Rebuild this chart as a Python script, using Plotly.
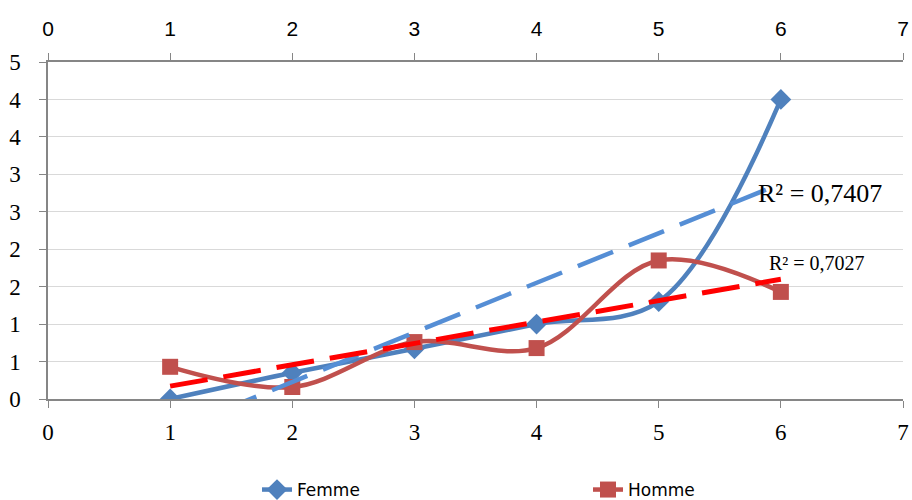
import numpy as np
import plotly.graph_objects as go

x_vals = [1, 2, 3, 4, 5, 6]
femme = [0.0, 0.35, 0.67, 1.0, 1.3, 4.0]
homme = [0.43, 0.16, 0.76, 0.68, 1.85, 1.43]
y_tickvals = [0, 0.5, 1, 1.5, 2, 2.5, 3, 3.5, 4, 4.5]
y_ticktext = ["0", "1", "1", "2", "2", "3", "3", "4", "4", "5"]
x_ticks = [0, 1, 2, 3, 4, 5, 6, 7]
r2_femme = "R² = 0,7407"
r2_homme = "R² = 0,7027"

blue = "#4F81BD"
red = "#C0504D"
blue_trend = "#558ED5"
red_trend = "#FF0000"
axis_col = "#868686"
serif = "Liberation Serif"
sans = "DejaVu Sans"

xs = np.array(x_vals, dtype=float)
fb = np.polyfit(xs, femme, 1)
hb = np.polyfit(xs, homme, 1)
tx = np.array([1.0, 6.0])

fig = go.Figure()
fig.add_trace(go.Scatter(x=x_vals, y=femme, name="Femme", mode="lines+markers", legend="legend",
                         line=dict(color=blue, width=4.5, shape="spline", smoothing=1.0),
                         marker=dict(symbol="diamond", size=16, color=blue)))
fig.add_trace(go.Scatter(x=x_vals, y=homme, name="Homme", mode="lines+markers", legend="legend2",
                         line=dict(color=red, width=4.5, shape="spline", smoothing=1.0),
                         marker=dict(symbol="square", size=16, color=red)))
fig.add_trace(go.Scatter(x=tx, y=np.polyval(fb, tx), mode="lines", showlegend=False,
                         line=dict(color=blue_trend, width=4.5, dash="38px,17px"), hoverinfo="skip"))
fig.add_trace(go.Scatter(x=tx, y=np.polyval(hb, tx), mode="lines", showlegend=False,
                         line=dict(color=red_trend, width=5, dash="38px,16px"), hoverinfo="skip"))
# invisible trace for top axis
fig.add_trace(go.Scatter(x=[0, 7], y=[0, 0], xaxis="x2", mode="lines",
                         line=dict(width=0), showlegend=False, hoverinfo="skip"))

fig.add_annotation(x=5.80, y=2.75, text=r2_femme, showarrow=False, xanchor="left", yanchor="middle",
                   font=dict(family=serif, size=26, color="black"))
fig.add_annotation(x=5.89, y=1.82, text=r2_homme, showarrow=False, xanchor="left", yanchor="middle",
                   font=dict(family=serif, size=20, color="black"))

leg_font = dict(family=sans, size=17, color="black")
fig.update_layout(
    width=912, height=500,
    margin=dict(l=48, r=9, t=62, b=101),
    paper_bgcolor="white", plot_bgcolor="white",
    showlegend=True,
    legend=dict(orientation="h", xref="container", yref="container", x=257 / 912, xanchor="left",
                y=0.02, yanchor="middle", font=leg_font),
    legend2=dict(orientation="h", xref="container", yref="container", x=588 / 912, xanchor="left",
                 y=0.02, yanchor="middle", font=leg_font),
    xaxis=dict(range=[0, 7], tickvals=x_ticks, ticks="outside", ticklen=7, tickcolor=axis_col,
               showline=True, linecolor=axis_col, linewidth=1.5, showgrid=False, zeroline=False,
               automargin=False, ticklabelstandoff=5,
               tickfont=dict(family=serif, size=23, color="black")),
    xaxis2=dict(range=[0, 7], tickvals=x_ticks, overlaying="x", side="top", ticks="outside",
                ticklen=7, tickcolor=axis_col, showline=True, linecolor=axis_col, linewidth=1.5,
                showgrid=False, zeroline=False, anchor="y", automargin=False, ticklabelstandoff=9,
                tickfont=dict(family="Liberation Sans", size=21, color="black")),
    yaxis=dict(range=[0, 4.5], tickvals=y_tickvals, ticktext=y_ticktext, ticks="outside", ticklen=7,
               tickcolor=axis_col, showline=True, linecolor=axis_col, linewidth=1.5,
               showgrid=True, gridcolor="#D9D9D9", gridwidth=1.2, zeroline=False,
               automargin=False, ticklabelstandoff=14,
               tickfont=dict(family=serif, size=23, color="black")),
)

fig.write_html("out.html")
